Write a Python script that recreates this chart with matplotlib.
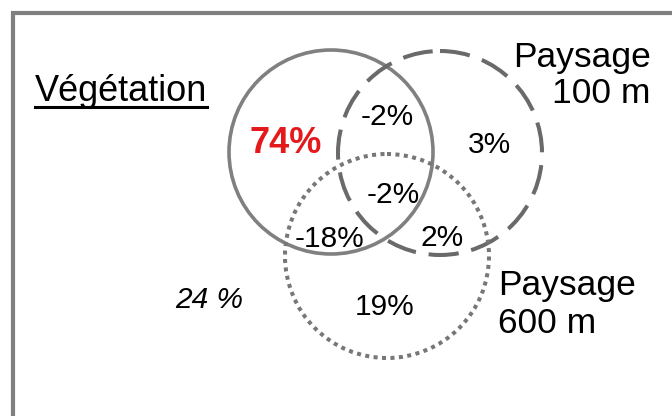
import matplotlib
matplotlib.use("Agg")
import matplotlib.pyplot as plt
from matplotlib.patches import Circle
from matplotlib.lines import Line2D

plt.rcParams['font.family'] = ['Liberation Sans', 'DejaVu Sans']

# --- données (parts de variance expliquée) ---
ensembles = ['Végétation', 'Paysage\n100 m', 'Paysage\n600 m']
zones = ['veg', 'veg_100', '100', 'veg_100_600', 'veg_600', '100_600', '600', 'residu']
valeurs = ['74%', '-2%', '3%', '-2%', '-18%', '2%', '19%', '24 %']

# --- mise en page (pixels, origine en haut à gauche) ---
centres = [(331, 152), (440, 153), (387, 256)]
rayon = 102
styles_cercles = [
    dict(edgecolor='#808080', linewidth=2.6, linestyle='-'),
    dict(edgecolor='#6a6a6a', linewidth=2.9, linestyle=(0, (7.5, 3.2))),
    dict(edgecolor='#777777', linewidth=2.9, linestyle=(0, (1, 1.1))),
]
pos_zones = {
    'veg': (286, 153), 'veg_100': (387, 125), '100': (489, 153),
    'veg_100_600': (393, 203), 'veg_600': (330, 247), '100_600': (442, 246),
    '600': (385, 315), 'residu': (209, 308),
}

fig = plt.figure(figsize=(6.72, 4.16), dpi=100)
ax = fig.add_axes([0, 0, 1, 1])
ax.set_xlim(0, 672)
ax.set_ylim(416, 0)
ax.set_aspect('equal')
ax.axis('off')

# cadre gris (gauche et haut)
ax.plot([13, 13, 672], [416, 13, 13], color='#808080', linewidth=3.0,
        solid_capstyle='butt', solid_joinstyle='miter')

for (cx, cy), st in zip(centres, styles_cercles):
    c = Circle((cx, cy), rayon, facecolor='none', **st)
    if st['linestyle'] != '-':
        c.set_capstyle('butt')
    ax.add_patch(c)

for z, v in zip(zones, valeurs):
    x, y = pos_zones[z]
    if z == 'veg':
        ax.text(x, y, v, ha='center', va='baseline', fontsize=26,
                fontweight='bold', color='#e4191c')
    elif z == 'residu':
        ax.text(x, y, v, ha='center', va='baseline', fontsize=21.5,
                style='italic', color='black')
    else:
        ax.text(x, y, v, ha='center', va='baseline', fontsize=21.5,
                color='black')

# titres des ensembles (va='baseline' = ligne du bas pour un texte multiligne)
t_veg = ax.text(35, 101, ensembles[0], ha='left', va='baseline', fontsize=26)
ax.text(651, 103, ensembles[1], ha='right', va='baseline', fontsize=25.5,
        multialignment='right', linespacing=1.13)
ax.text(498, 333, ensembles[2], ha='left', va='baseline', fontsize=25.5,
        multialignment='left', linespacing=1.18)

# soulignement de "Végétation"
fig.canvas.draw()
bb = t_veg.get_window_extent()
inv = fig.transFigure.inverted()
x0, _ = inv.transform((bb.x0, 0))
x1, _ = inv.transform((bb.x1, 0))
y_line = 1 - 107 / 416
fig.add_artist(Line2D([x0, x1], [y_line, y_line], transform=fig.transFigure,
                      color='black', linewidth=2.2))

plt.savefig('out.png', dpi=100)
